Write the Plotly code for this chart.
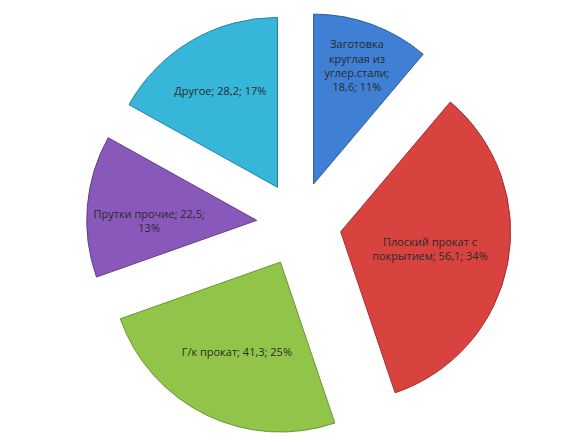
import plotly.graph_objects as go

# slice data
labels = [
    "Заготовка<br>круглая из<br>углер.стали;<br>18,6; 11%",
    "Плоский прокат с<br>покрытием; 56,1; 34%",
    "Г/к прокат; 41,3; 25%",
    "Прутки прочие; 22,5;<br>13%",
    "Другое; 28,2; 17%",
]
values = [18.6, 56.1, 41.3, 22.5, 28.2]
colors = ["#3f7fd4", "#d8433f", "#93c44a", "#8859ba", "#36b6d8"]
edges = ["#2c5d9e", "#9e2f2c", "#6c9433", "#613f88", "#23849f"]

fig = go.Figure(go.Pie(
    labels=labels,
    values=values,
    sort=False,
    direction="clockwise",
    rotation=0,
    pull=[0.25] * len(values),
    marker=dict(colors=colors, line=dict(color=edges, width=1)),
    text=labels,
    textinfo="text",
    textposition="inside",
    insidetextorientation="horizontal",
    textfont=dict(family="Open Sans, Liberation Sans, sans-serif", size=11, color="#2a2a2a"),
    hoverinfo="label+value+percent",
    domain=dict(x=[0.1335, 0.8563], y=[0.031, 0.992]),
    showlegend=False,
))

fig.update_layout(
    width=588,
    height=442,
    margin=dict(l=0, r=0, t=0, b=0),
    paper_bgcolor="white",
    plot_bgcolor="white",
)

fig.write_html("out.html")
